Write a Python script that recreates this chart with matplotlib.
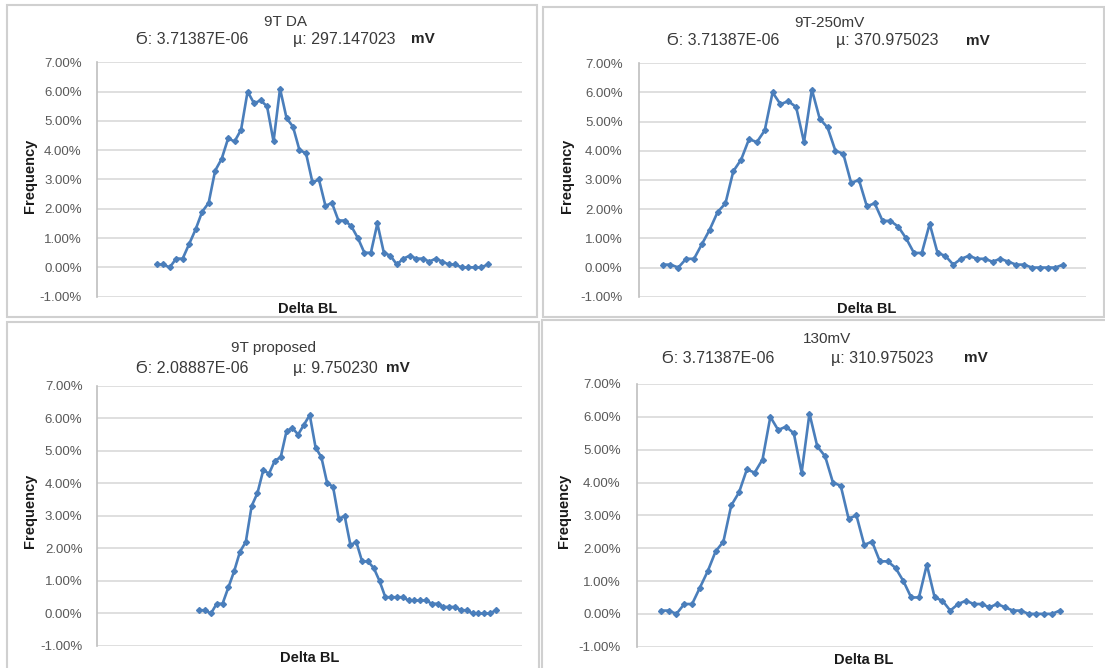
import matplotlib
matplotlib.use("Agg")
import matplotlib.pyplot as plt
from matplotlib.patches import Rectangle
import numpy as np

# ---------------- data ----------------
freq_9t_da = [0.1, 0.1, 0.0, 0.3, 0.3, 0.8, 1.3, 1.9, 2.2, 3.3, 3.7, 4.4, 4.3, 4.7, 6.0,
              5.6, 5.7, 5.5, 4.3, 6.1, 5.1, 4.8, 4.0, 3.9, 2.9, 3.0, 2.1, 2.2, 1.6, 1.6,
              1.4, 1.0, 0.5, 0.5, 1.5, 0.5, 0.4, 0.1, 0.3, 0.4, 0.3, 0.3, 0.2, 0.3, 0.2,
              0.1, 0.1, 0.0, 0.0, 0.0, 0.0, 0.1]
freq_9t_250mv = [0.1, 0.1, 0.0, 0.3, 0.3, 0.8, 1.3, 1.9, 2.2, 3.3, 3.7, 4.4, 4.3, 4.7, 6.0,
                 5.6, 5.7, 5.5, 4.3, 6.1, 5.1, 4.8, 4.0, 3.9, 2.9, 3.0, 2.1, 2.2, 1.6, 1.6,
                 1.4, 1.0, 0.5, 0.5, 1.5, 0.5, 0.4, 0.1, 0.3, 0.4, 0.3, 0.3, 0.2, 0.3, 0.2,
                 0.1, 0.1, 0.0, 0.0, 0.0, 0.0, 0.1]
freq_9t_proposed = [0.1, 0.1, 0.0, 0.3, 0.3, 0.8, 1.3, 1.9, 2.2, 3.3, 3.7, 4.4, 4.3, 4.7, 4.8,
                    5.6, 5.7, 5.5, 5.8, 6.1, 5.1, 4.8, 4.0, 3.9, 2.9, 3.0, 2.1, 2.2, 1.6, 1.6,
                    1.4, 1.0, 0.5, 0.5, 0.5, 0.5, 0.4, 0.4, 0.4, 0.4, 0.3, 0.3, 0.2, 0.2, 0.2,
                    0.1, 0.1, 0.0, 0.0, 0.0, 0.0, 0.1]
freq_130mv = [0.1, 0.1, 0.0, 0.3, 0.3, 0.8, 1.3, 1.9, 2.2, 3.3, 3.7, 4.4, 4.3, 4.7, 6.0,
              5.6, 5.7, 5.5, 4.3, 6.1, 5.1, 4.8, 4.0, 3.9, 2.9, 3.0, 2.1, 2.2, 1.6, 1.6,
              1.4, 1.0, 0.5, 0.5, 1.5, 0.5, 0.4, 0.1, 0.3, 0.4, 0.3, 0.3, 0.2, 0.3, 0.2,
              0.1, 0.1, 0.0, 0.0, 0.0, 0.0, 0.1]

titles = ["9T DA", "9T-250mV", "9T proposed", "130mV"]
sigma_texts = ["Ϭ: 3.71387E-06", "Ϭ: 3.71387E-06", "Ϭ: 2.08887E-06", "Ϭ: 3.71387E-06"]
mu_texts = ["µ: 297.147023", "µ: 370.975023", "µ: 9.750230", "µ: 310.975023"]
unit_text = "mV"
y_ticks = [-1, 0, 1, 2, 3, 4, 5, 6, 7]
y_tick_labels = ["-1.00%", "0.00%", "1.00%", "2.00%", "3.00%", "4.00%", "5.00%", "6.00%", "7.00%"]
x_label = "Delta BL"
y_label = "Frequency"

series = [freq_9t_da, freq_9t_250mv, freq_9t_proposed, freq_130mv]

# ---------------- layout (pixel based) ----------------
W, H = 1105, 668
fig = plt.figure(figsize=(W / 100, H / 100), dpi=100)
fig.patch.set_facecolor("white")

FONT = ["Liberation Sans", "DejaVu Sans"]
LINE_C = "#4A7EBB"
GRID_C = "#D9D9D9"
TXT_C = "#3A3A3A"


def fx(x):
    return x / W


def fy(y):
    return 1 - y / H


# plot area: left, right, top(7%), bottom(-1%) in pixels
areas = [(96.5, 521.7, 62.3, 296.7),
         (639.2, 1086.0, 63.3, 296.7),
         (97.2, 521.8, 385.7, 646.0),
         (636.7, 1092.7, 384.0, 646.7)]
xlims = [(-9.28, 56.24), (-2.98, 53.9), (-17.56, 55.47), (-3.08, 55.2)]
tick_pads = [10.6, 12.0, 10.6, 11.5]
title_pos = [(285.6, 21.7, 39.3), (829.6, 22.7, 40.7), (273.7, 348.3, 368.3), (827.0, 339.0, 358.3)]
line2_x = [(135.8, 293.0, 410.5), (666.8, 836.0, 966.0), (135.8, 293.0, 386.0), (661.5, 831.4, 964.0)]
ylabel_pos = [(30.0, 176.0), (567.0, 176.0), (30.0, 511.0), (564.0, 511.0)]
xlabel_pos = [(308.0, 309.0), (866.5, 309.0), (309.3, 657.7), (864.0, 660.0)]
boxes = [(7, 5, 537, 317), (543, 7, 1104, 317), (7, 322, 539, 690), (542, 320, 1120, 690)]

for i in range(4):
    # panel frame
    bx0, by0, bx1, by1 = boxes[i]
    fig.patches.append(Rectangle((fx(bx0), fy(by1)), fx(bx1) - fx(bx0), fy(by0) - fy(by1),
                                 transform=fig.transFigure, fill=False,
                                 edgecolor="#D0D0D0", linewidth=1.5, zorder=0))

    l, r, t, b = areas[i]
    ax = fig.add_axes([fx(l), fy(b), fx(r) - fx(l), fy(t) - fy(b)])
    ax.set_facecolor("none")
    vals = series[i]
    x = np.arange(len(vals))
    ax.plot(x, vals, color=LINE_C, linewidth=1.9, marker="D", markersize=3.0,
            markerfacecolor=LINE_C, markeredgecolor=LINE_C, zorder=3,
            solid_joinstyle="round")
    ax.set_xlim(*xlims[i])
    ax.set_ylim(-1, 7)
    ax.set_yticks(y_ticks)
    ax.set_yticklabels(y_tick_labels, fontfamily=FONT, fontsize=9.5, color="#595959")
    ax.set_xticks([])
    ax.tick_params(axis="y", length=0, pad=tick_pads[i])
    ax.grid(axis="y", color=GRID_C, linewidth=1.2)
    ax.set_axisbelow(True)
    for s in ["top", "right", "bottom"]:
        ax.spines[s].set_visible(False)
    ax.spines["left"].set_color("#BFBFBF")
    ax.spines["left"].set_linewidth(1.2)

    # titles
    cx, y1, y2 = title_pos[i]
    fig.text(fx(cx), fy(y1), titles[i], ha="center", va="center",
             fontsize=11, family=FONT, color=TXT_C)
    sx, mx, ux = line2_x[i]
    fig.text(fx(sx), fy(y2), sigma_texts[i], ha="left", va="center",
             fontsize=11.5, family=FONT, color=TXT_C)
    fig.text(fx(mx), fy(y2), mu_texts[i], ha="left", va="center",
             fontsize=11.5, family=FONT, color=TXT_C)
    fig.text(fx(ux), fy(y2), unit_text, ha="left", va="center",
             fontsize=11, family=FONT, color="#262626", fontweight="bold")

    # axis labels
    yx, yy = ylabel_pos[i]
    fig.text(fx(yx), fy(yy), y_label, rotation=90, ha="center", va="center",
             fontsize=10.5, family=FONT, fontweight="bold", color="#1A1A1A")
    xx, xy = xlabel_pos[i]
    fig.text(fx(xx), fy(xy), x_label, ha="center", va="center",
             fontsize=10.5, family=FONT, fontweight="bold", color="#1A1A1A")

# clipped header text at top-right (only its lower edge shows, as in the source page)
fig.text(fx(1040), fy(4), "ISSN 2321", ha="left", va="bottom", fontsize=13,
         family=["Liberation Serif", "DejaVu Serif"], color="#1AABB0")

fig.savefig("out.png", dpi=100, facecolor="white")
